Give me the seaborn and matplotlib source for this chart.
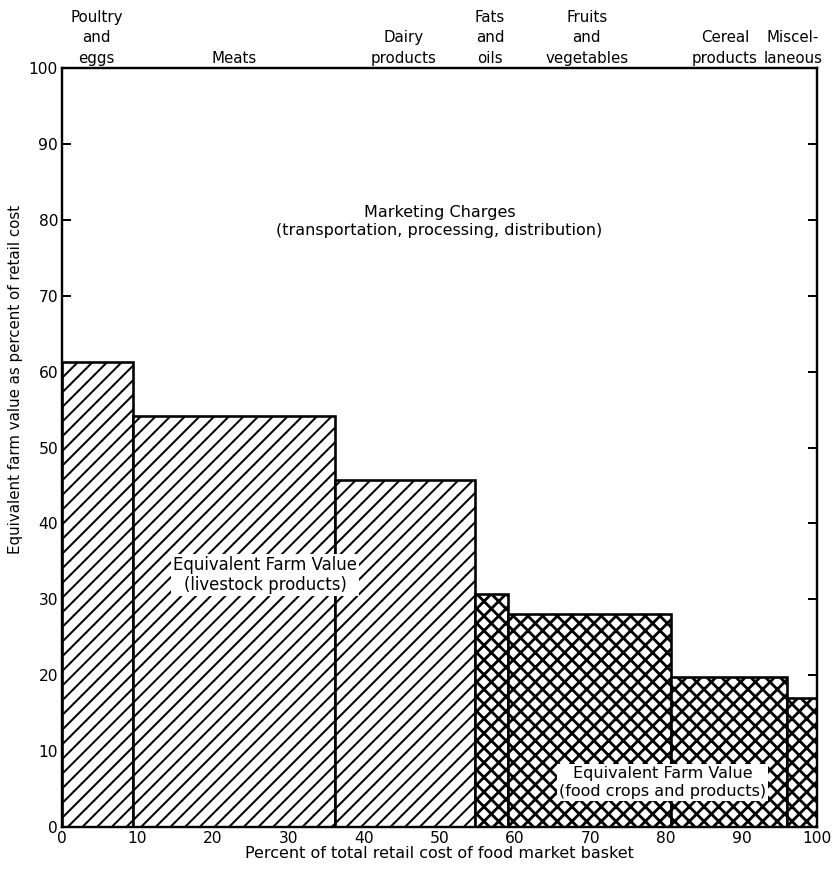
import numpy as np
import matplotlib
matplotlib.use('Agg')
import matplotlib.pyplot as plt
import seaborn as sns

# food groups, share of retail cost (bar edges) and farm value share (bar heights)
groups = ['Poultry\nand\neggs', 'Meats', 'Dairy\nproducts', 'Fats\nand\noils',
          'Fruits\nand\nvegetables', 'Cereal\nproducts', 'Miscel-\nlaneous']
edges = [0, 9.4, 36.2, 54.7, 59.1, 80.7, 96.0, 100]
farm_share = [61.3, 54.2, 45.7, 30.7, 28.0, 19.7, 17.0]
livestock = [0, 1, 2]
crops = [3, 4, 5, 6]
label_x = [4.6, 22.8, 45.3, 56.7, 69.5, 87.8, 96.8]

DPI = 88
def px(v):
    # pixel size -> points
    return v * 72 / DPI

sns.set_style('ticks')
plt.rcParams['font.family'] = ['DejaVu Sans']
plt.rcParams['text.color'] = 'black'
plt.rcParams['axes.labelcolor'] = 'black'
plt.rcParams['hatch.linewidth'] = px(2.0)

# dpi picked so the hatch spacing matches the scan
fig = plt.figure(figsize=(834 / DPI, 874 / DPI), dpi=DPI)
ax = fig.add_axes([62 / 834, 1 - 827 / 874, 755 / 834, 759 / 874])

mids = [(edges[i] + edges[i + 1]) / 2 for i in range(len(farm_share))]

sns.histplot(x=[mids[i] for i in livestock], weights=[farm_share[i] for i in livestock],
             bins=edges[0:4], ax=ax, color='white', edgecolor='black',
             linewidth=px(2.6), alpha=1, hatch='//')
with plt.rc_context({'hatch.linewidth': px(2.8)}):
    sns.histplot(x=[mids[i] for i in crops], weights=[farm_share[i] for i in crops],
                 bins=edges[3:], ax=ax, color='white', edgecolor='black',
                 linewidth=px(2.6), alpha=1, hatch='xx')

ax.set_xlim(0, 100)
ax.set_ylim(0, 100)
ax.set_xticks(np.arange(0, 101, 10))
ax.set_yticks(np.arange(0, 101, 10))
ax.tick_params(axis='both', direction='in', length=px(9), width=px(2),
               labelsize=px(15.5), pad=px(4), color='black', labelcolor='black')
ax.tick_params(axis='y', right=True)
for sp in ax.spines.values():
    sp.set_visible(True)
    sp.set_linewidth(px(2.4))
    sp.set_color('black')

ax.set_xlabel('Percent of total retail cost of food market basket', fontsize=px(16),
              labelpad=0)
ax.set_ylabel('Equivalent farm value as percent of retail cost', fontsize=px(15),
              labelpad=px(6))
ax.yaxis.set_label_coords(-0.052, 0.59)

for g, x in zip(groups, label_x):
    ax.text(x, 100.3, g, ha='center', va='bottom', fontsize=px(15), linespacing=1.45,
            clip_on=False)

ax.text(50, 79.8, 'Marketing Charges\n(transportation, processing, distribution)',
        ha='center', va='center', fontsize=px(16), linespacing=1.2)
box = dict(facecolor='white', edgecolor='none', pad=px(2))
ax.text(26.9, 33.2, 'Equivalent Farm Value\n(livestock products)',
        ha='center', va='center', fontsize=px(16.5), linespacing=1.15, bbox=box)
ax.text(79.6, 5.9, 'Equivalent Farm Value\n(food crops and products)',
        ha='center', va='center', fontsize=px(16), linespacing=1.25, bbox=box)

fig.savefig('out.png', dpi=DPI)
